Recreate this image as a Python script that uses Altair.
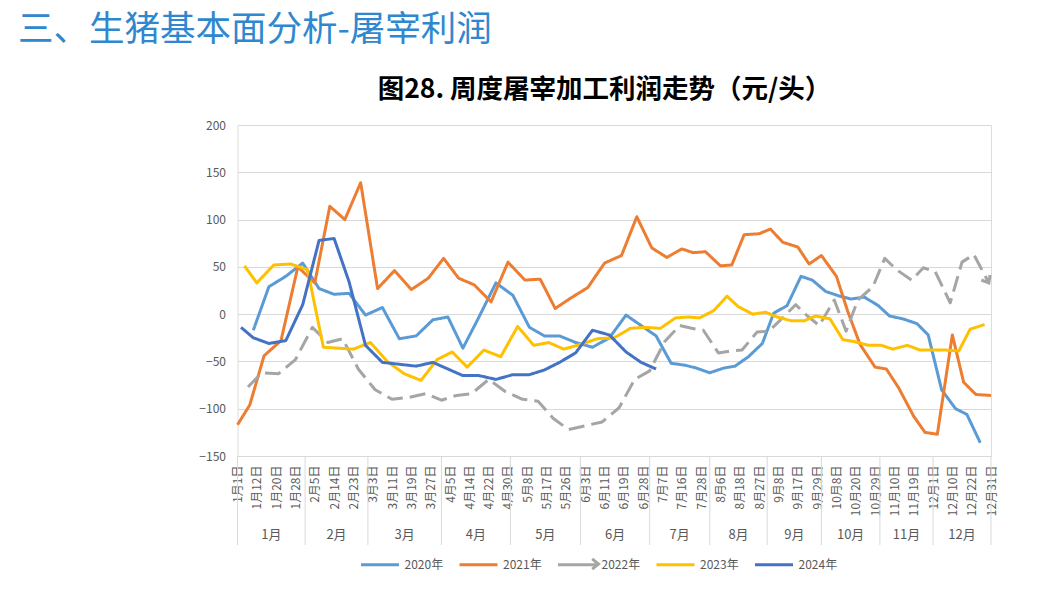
import json
import altair as alt
import numpy as np
import pandas as pd

FONT = "Noto Sans CJK SC"

# ---- axis categories (date labels) and their day-of-year positions ----
label_text = ["1月1日", "1月12日", "1月20日", "1月28日", "2月5日", "2月14日", "2月23日",
              "3月3日", "3月11日", "3月19日", "3月27日", "4月5日", "4月14日", "4月22日",
              "4月30日", "5月8日", "5月17日", "5月26日", "6月3日", "6月11日", "6月19日",
              "6月28日", "7月7日", "7月16日", "7月28日", "8月6日", "8月18日", "8月27日",
              "9月8日", "9月17日", "9月29日", "10月8日", "10月20日", "10月29日", "11月10日",
              "11月19日", "12月1日", "12月10日", "12月22日", "12月31日"]
label_days = [0, 11, 19, 27, 35, 44, 53, 61, 69, 77, 85, 94, 103, 111, 119, 127, 136, 145,
              153, 161, 169, 178, 187, 196, 208, 217, 229, 238, 250, 259, 271, 280, 292, 301,
              313, 322, 334, 343, 355, 364]
month_names = ["1月", "2月", "3月", "4月", "5月", "6月", "7月", "8月", "9月", "10月", "11月", "12月"]
month_bounds = [0, 31, 59, 90, 120, 151, 181, 212, 243, 273, 304, 334, 364]

# ---- series (weekly values, yuan/head) ----
series_names = ["2020年", "2021年", "2022年", "2023年", "2024年"]
series_colors = ["#5B9BD5", "#ED7D31", "#A5A5A5", "#FFC000", "#4472C4"]
start_day = [9, 0, 6, 4, 2]

v2020 = [-17, 29, 40, 54, 27, 21, 22, -1, 7, -26, -23, -6, -3, -36, -3, 33, 20, -14, -23, -23,
         -30, -35, -25, -1, -12, -23, -52, -54, -57, -62, -57, -55, -45, -31, 1, 9, 40, 36, 24,
         19, 16, 18, 9, -2, -5, -10, -22, -80, -100, -106, -136]
v2021 = [-117, -96, -44, -28, 50, 33, 114, 100, 139, 27, 46, 26, 38, 59, 38, 31, 13, 55, 36, 37,
         6, 17, 28, 54, 62, 103, 70, 60, 69, 65, 66, 51, 52, 84, 85, 90, 76, 71, 53, 62, 40, 3,
         -32, -56, -58, -78, -108, -125, -127, -22, -72, -85, -86]
v2022 = [-77, -62, -63, -48, -14, -30, -26, -58, -80, -90, -88, -84, -91, -86, -84, -69, -82, -90,
         -92, -110, -122, -118, -114, -99, -69, -60, -29, -12, -15, -17, -41, -39, -38, -19, -18,
         -6, 10, -2, -12, 15, -18, 15, 29, 59, 47, 36, 49, 45, 12, 55, 63, 33]
v2023 = [51, 33, 52, 53, 47, -35, -36, -37, -30, -50, -63, -70, -48, -40, -56, -38, -45, -13, -33,
         -30, -37, -32, -26, -25, -15, -14, -15, -4, -3, -4, 4, 19, 8, 0, 2, -3, -7, -7, -2, -5,
         -27, -29, -33, -33, -37, -33, -38, -38, -38, -39, -16, -11]
v2024 = [-14, -25, -31, -28, 10, 78, 80, 34, -33, -51, -53, -55, -51, -58, -65, -65, -69, -64,
         -64, -59, -51, -41, -17, -22, -40, -51, -58]
all_values = [v2020, v2021, v2022, v2023, v2024]

y_ticks = [-150, -100, -50, 0, 50, 100, 150, 200]

header_text = "三、生猪基本面分析-屠宰利润"
title_text = "图28. 周度屠宰加工利润走势（元/头）"

# ---- build tables ----
rows = []
for name, sd, vals in zip(series_names, start_day, all_values):
    for i, v in enumerate(vals):
        rows.append({"series": name, "day": sd + 7 * i, "value": v})
df = pd.DataFrame(rows)
arrow_df = df[df.series == "2022年"].tail(1)

idx = np.arange(len(label_days))
mid_days = []
for a, b in zip(month_bounds[:-1], month_bounds[1:]):
    m = (np.interp(a, label_days, idx) + np.interp(b, label_days, idx)) / 2
    mid_days.append(float(np.interp(m, idx, label_days)))
month_df = pd.DataFrame({"day": mid_days, "name": month_names})
bound_df = pd.DataFrame({"day": month_bounds})

W, H = 753.5, 331
xrange_px = [W * i / (len(label_days) - 1) for i in range(len(label_days))]

label_expr = "{}[indexof({}, datum.value)]".format(
    json.dumps(label_text, ensure_ascii=False), json.dumps(label_days))

xscale = alt.Scale(domain=label_days, range=xrange_px, nice=False, zero=False)
xaxis = alt.Axis(values=label_days, labelExpr=label_expr, labelAngle=270, labelFontSize=12,
                 labelColor="#595959", labelFont=FONT, ticks=False, domainColor="#D9D9D9",
                 domainWidth=1, grid=False, title=None, labelPadding=9, labelOverlap=False,
                 labelFlush=False)
X = alt.X("day:Q", scale=xscale, axis=xaxis)

yscale = alt.Scale(domain=[-150, 200], nice=False, zero=False)
yaxis = alt.Axis(values=y_ticks, labelFontSize=12, labelColor="#595959", labelFont=FONT,
                 ticks=False, domain=False, gridColor="#D9D9D9", gridWidth=1, title=None,
                 labelPadding=12)

lines = alt.Chart(df).mark_line(strokeWidth=3, strokeJoin="round").encode(
    x=X,
    y=alt.Y("value:Q", scale=yscale, axis=yaxis),
    color=alt.Color("series:N", scale=alt.Scale(domain=series_names, range=series_colors),
                    legend=alt.Legend(orient="none", legendX=122, legendY=419,
                                      direction="horizontal", title=None, symbolType="stroke",
                                      symbolSize=1444, symbolStrokeWidth=3, labelFontSize=12,
                                      labelColor="#595959", labelFont=FONT, labelOffset=4,
                                      columnPadding=9.5)),
    strokeDash=alt.condition(alt.datum.series == "2022年", alt.value([16, 7]), alt.value([1, 0])),
)

ARROW = "M -1 -0.8 L 0 0 L -1 0.8"
arrow = alt.Chart(arrow_df).mark_point(
    shape=ARROW, filled=False, strokeWidth=3, size=160, angle=60,
    color="#A5A5A5", opacity=1).encode(
    x=X, y=alt.Y("value:Q", scale=yscale, axis=yaxis))

# arrow head on the 2022 legend symbol
legend_arrow = alt.Chart(pd.DataFrame({"s": ["2022年"]})).mark_point(
    shape=ARROW, filled=False, strokeWidth=3, size=160, angle=0,
    color="#A5A5A5", opacity=1).encode(
    x=alt.value(361), y=alt.value(439))

seps = alt.Chart(bound_df).mark_rule(color="#D9D9D9", strokeWidth=1).encode(
    x=X, y=alt.value(H), y2=alt.value(H + 89))

months = alt.Chart(month_df).mark_text(fontSize=13, color="#595959", font=FONT,
                                       baseline="middle").encode(
    x=X, y=alt.value(H + 79), text="name:N")

header = alt.Chart(pd.DataFrame({"t": [header_text]})).mark_text(
    fontSize=35.5, color="#2F88CF", font=FONT, align="left", baseline="alphabetic").encode(
    x=alt.value(-219.5), y=alt.value(-84), text="t:N")

title = alt.Chart(pd.DataFrame({"t": [title_text]})).mark_text(
    fontSize=26.5, fontWeight="bold", color="#000000", font=FONT, align="center",
    baseline="middle").encode(
    x=alt.value(367), y=alt.value(-35), text="t:N")

chart = alt.layer(seps, lines, arrow, legend_arrow, months, header, title).properties(
    width=W, height=H,
    autosize=alt.AutoSizeParams(type="none"),
    padding={"left": 229.5, "top": 117, "right": 60, "bottom": 140},
).configure_view(stroke=None).configure(background="white")

chart.save("out.html", embed_options={"renderer": "svg", "actions": False})
